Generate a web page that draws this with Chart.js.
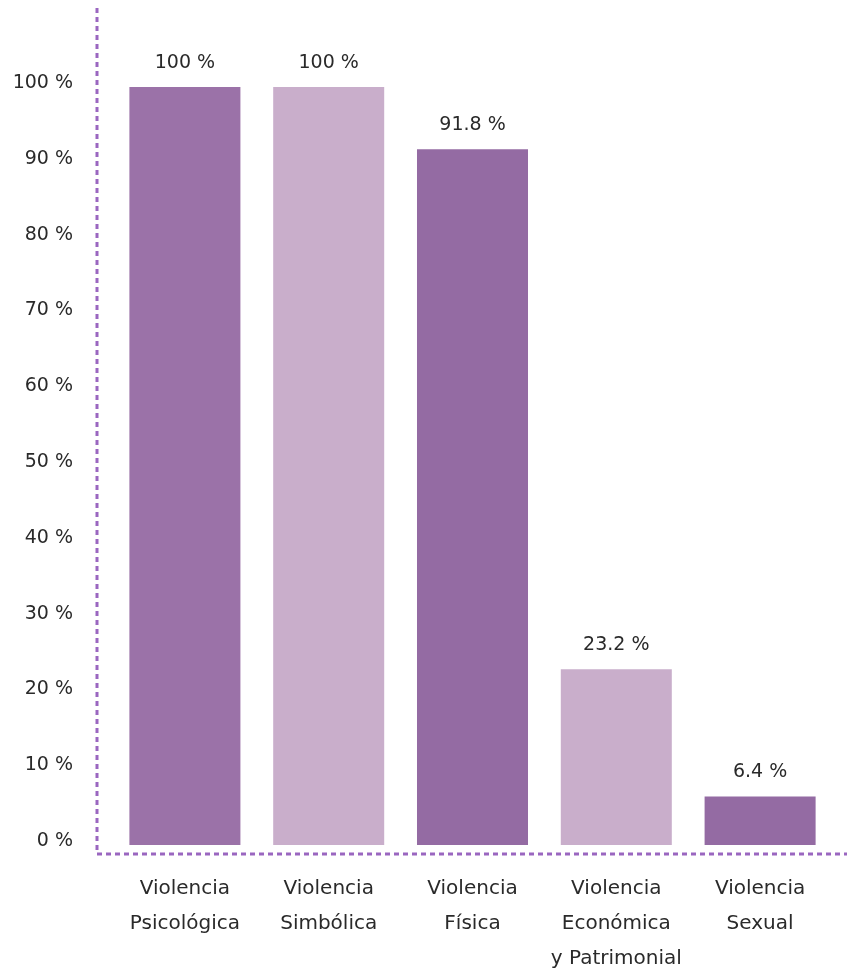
<!DOCTYPE html>
<html>
<head>
<meta charset="utf-8">
<script src="https://cdn.jsdelivr.net/npm/chart.js@4"></script>
<style>
  html, body { margin: 0; padding: 0; background: #fff; }
  #wrap { width: 847px; height: 971px; position: relative; }
</style>
</head>
<body>
<div id="wrap"><canvas id="chart"></canvas></div>
<script>
// data
const categories = [
  ["Violencia", "Psicológica"],
  ["Violencia", "Simbólica"],
  ["Violencia", "Física"],
  ["Violencia", "Económica", "y Patrimonial"],
  ["Violencia", "Sexual"],
];
const values = [100, 100, 91.8, 23.2, 6.4];
const valueLabels = ["100 %", "100 %", "91.8 %", "23.2 %", "6.4 %"];
const yTicks = [0, 10, 20, 30, 40, 50, 60, 70, 80, 90, 100];
const barColors = ["#9b72a8", "#c9aecb", "#946ba3", "#c9aecb", "#946ba3"];

const AXIS_COLOR = "#9a66c0";
const TEXT_COLOR = "#2a2a2a";
const FONT = "'DejaVu Sans', sans-serif";

// dotted axes + value labels above bars
const decorPlugin = {
  id: "decor",
  afterDraw(chart) {
    const { ctx } = chart;
    const axisX = 97, axisY = 854;
    ctx.save();
    ctx.strokeStyle = AXIS_COLOR;
    ctx.lineWidth = 3;
    ctx.setLineDash([5, 4]);
    ctx.beginPath(); ctx.moveTo(axisX, 8); ctx.lineTo(axisX, axisY); ctx.stroke();
    ctx.beginPath(); ctx.moveTo(axisX, axisY); ctx.lineTo(847, axisY); ctx.stroke();
    ctx.setLineDash([]);

    ctx.fillStyle = TEXT_COLOR;
    ctx.font = "19px " + FONT;
    ctx.textAlign = "center";
    ctx.textBaseline = "middle";
    chart.getDatasetMeta(0).data.forEach((bar, i) => {
      ctx.fillText(valueLabels[i], bar.x, bar.y - 24);
    });
    ctx.restore();
  }
};

new Chart(document.getElementById("chart"), {
  type: "bar",
  data: {
    labels: categories,
    datasets: [{
      data: values,
      backgroundColor: barColors,
      borderWidth: 0,
      barPercentage: 0.772,
      categoryPercentage: 1,
    }]
  },
  options: {
    responsive: true,
    maintainAspectRatio: false,
    animation: false,
    layout: { padding: { top: 87, right: 15, left: 0, bottom: 0 } },
    plugins: { legend: { display: false }, tooltip: { enabled: false } },
    scales: {
      x: {
        grid: { display: false, drawTicks: false },
        border: { display: false },
        ticks: {
          color: TEXT_COLOR,
          font: { size: 20, family: FONT, lineHeight: 1.75 },
          padding: 26,
          maxRotation: 0,
          autoSkip: false,
        },
        afterFit(scale) { scale.height = 971 - 845; },
      },
      y: {
        min: 0,
        max: 100,
        grid: { display: false, drawTicks: false },
        border: { display: false },
        afterBuildTicks(scale) {
          scale.ticks = yTicks.map(v => ({ value: v }));
        },
        ticks: {
          color: TEXT_COLOR,
          font: { size: 19, family: FONT },
          padding: 40,
          labelOffset: -4,
          callback: v => v + " %",
        },
        afterFit(scale) { scale.width = 113; },
      }
    }
  },
  plugins: [decorPlugin],
});
</script>
</body>
</html>
